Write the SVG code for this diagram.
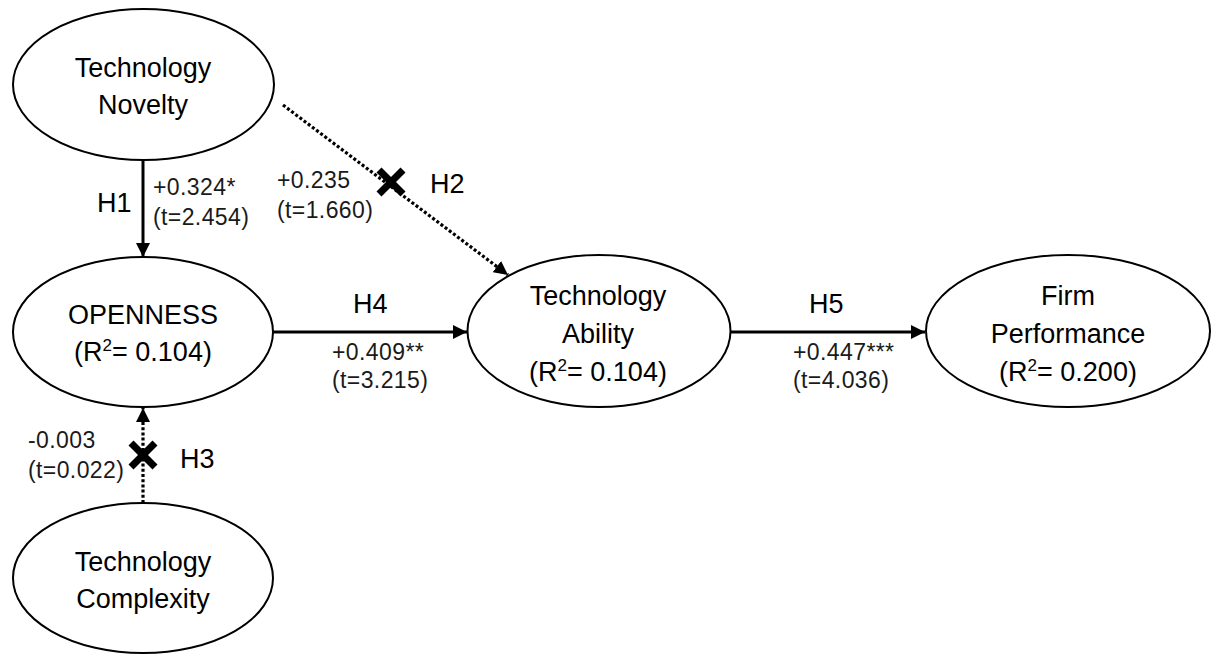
<svg xmlns="http://www.w3.org/2000/svg" width="1214" height="655" viewBox="0 0 1214 655">
<style>
  .node { fill: #ffffff; stroke: #000000; stroke-width: 2; }
  .nt { font-family: "Liberation Sans", Arial, sans-serif; font-size: 27px; fill: #000; text-anchor: middle; }
  .h { font-family: "Liberation Sans", Arial, sans-serif; font-size: 27px; fill: #000; }
  .lbl { font-family: "Liberation Sans", Arial, sans-serif; font-size: 23px; letter-spacing: 0.4px; fill: #1a1a1a; }
  .solid { stroke: #000; stroke-width: 3; fill: none; marker-end: url(#arrow); }
  .dot { stroke: #000; stroke-width: 3.2; fill: none; stroke-dasharray: 3 2.2; marker-end: url(#arrow); }
  .x { stroke: #000; stroke-width: 7; }
</style>
<defs>
  <marker id="arrow" markerUnits="userSpaceOnUse" markerWidth="14" markerHeight="14" refX="14" refY="7" orient="auto">
    <path d="M0,0 L14,7 L0,14 z" fill="#000"/>
  </marker>
</defs>
<rect width="1214" height="655" fill="#ffffff"/>

<g id="connectors">
  <line id="h1" class="solid" x1="143" y1="160" x2="143" y2="257"/>
  <line id="h2" class="dot" x1="283" y1="105" x2="508" y2="275"/>
  <line id="h3" class="dot" x1="143" y1="503" x2="143" y2="408"/>
  <line id="h4" class="solid" x1="273" y1="332" x2="467" y2="332"/>
  <line id="h5" class="solid" x1="731" y1="332" x2="925" y2="332"/>
  <g id="x2">
    <line class="x" x1="379" y1="170" x2="403" y2="194"/>
    <line class="x" x1="403" y1="170" x2="379" y2="194"/>
  </g>
  <g id="x3">
    <line class="x" x1="131" y1="443" x2="155" y2="467"/>
    <line class="x" x1="155" y1="443" x2="131" y2="467"/>
  </g>
  <text class="h" x="97" y="212">H1</text>
  <text class="lbl" x="153" y="195">+0.324*</text>
  <text class="lbl" x="153" y="225">(t=2.454)</text>
  <text class="lbl" x="277" y="188">+0.235</text>
  <text class="lbl" x="277" y="218">(t=1.660)</text>
  <text class="h" x="430" y="193">H2</text>
  <text class="lbl" x="28" y="448">-0.003</text>
  <text class="lbl" x="28" y="478">(t=0.022)</text>
  <text class="h" x="180" y="468">H3</text>
  <text class="h" x="353" y="313">H4</text>
  <text class="lbl" x="332" y="360">+0.409**</text>
  <text class="lbl" x="332" y="388">(t=3.215)</text>
  <text class="h" x="809" y="313">H5</text>
  <text class="lbl" x="793" y="360">+0.447***</text>
  <text class="lbl" x="793" y="388">(t=4.036)</text>
</g>

<g id="technology-novelty">
  <ellipse class="node" cx="143.5" cy="84.5" rx="130.5" ry="75.5"/>
  <text class="nt" x="143" y="77">Technology</text>
  <text class="nt" x="143" y="114">Novelty</text>
</g>

<g id="openness">
  <ellipse class="node" cx="143" cy="332" rx="130" ry="75"/>
  <text class="nt" x="143" y="324">OPENNESS</text>
  <text class="nt" x="143" y="361">(R<tspan font-size="17" dy="-10">2</tspan><tspan dy="10">= 0.104)</tspan></text>
</g>

<g id="technology-complexity">
  <ellipse class="node" cx="143" cy="578" rx="130" ry="75"/>
  <text class="nt" x="143" y="571">Technology</text>
  <text class="nt" x="143" y="608">Complexity</text>
</g>

<g id="technology-ability">
  <ellipse class="node" cx="599" cy="331" rx="131.5" ry="76"/>
  <text class="nt" x="598" y="305">Technology</text>
  <text class="nt" x="598" y="343">Ability</text>
  <text class="nt" x="598" y="381">(R<tspan font-size="17" dy="-10">2</tspan><tspan dy="10">= 0.104)</tspan></text>
</g>

<g id="firm-performance">
  <ellipse class="node" cx="1068" cy="331" rx="142" ry="76"/>
  <text class="nt" x="1068" y="305">Firm</text>
  <text class="nt" x="1068" y="343">Performance</text>
  <text class="nt" x="1068" y="381">(R<tspan font-size="17" dy="-10">2</tspan><tspan dy="10">= 0.200)</tspan></text>
</g>
</svg>
